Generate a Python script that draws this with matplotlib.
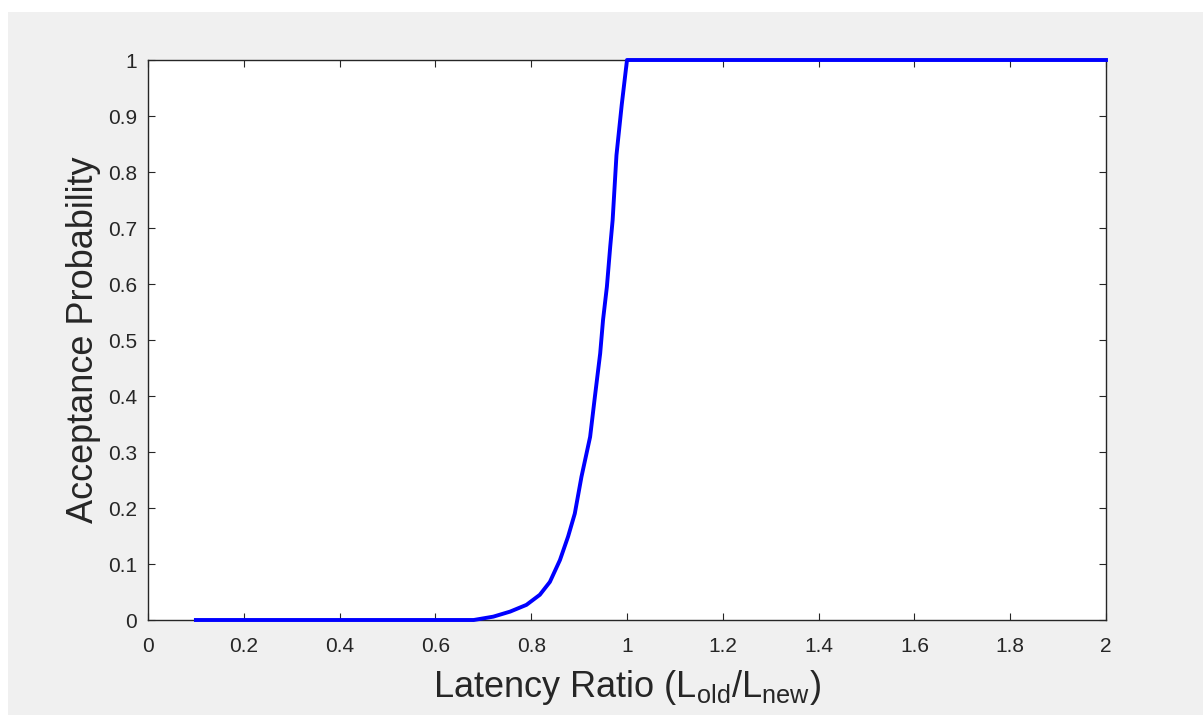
import matplotlib
matplotlib.use("agg")
import matplotlib.pyplot as plt
from matplotlib.patches import Rectangle

# values
ratio = [0.1, 0.2, 0.3, 0.4, 0.5, 0.6, 0.68, 0.721, 0.756, 0.79, 0.818, 0.839,
         0.86, 0.877, 0.891, 0.905, 0.923, 0.933, 0.944, 0.95, 0.958, 0.965,
         0.97, 0.978, 0.989, 1.0, 1.5, 2.0]
prob = [0, 0, 0, 0, 0, 0, 0, 0.006, 0.015, 0.027, 0.045, 0.068,
        0.107, 0.149, 0.19, 0.256, 0.327, 0.399, 0.476, 0.536, 0.595, 0.667,
        0.714, 0.83, 0.92, 1.0, 1.0, 1.0]

x_ticks = [0, 0.2, 0.4, 0.6, 0.8, 1, 1.2, 1.4, 1.6, 1.8, 2]
x_labels = ['0', '0.2', '0.4', '0.6', '0.8', '1', '1.2', '1.4', '1.6', '1.8', '2']
y_ticks = [0, 0.1, 0.2, 0.3, 0.4, 0.5, 0.6, 0.7, 0.8, 0.9, 1]
y_labels = ['0', '0.1', '0.2', '0.3', '0.4', '0.5', '0.6', '0.7', '0.8', '0.9', '1']

plt.rcParams['font.family'] = ['Liberation Sans', 'DejaVu Sans']
ink = '#262626'

fig = plt.figure(figsize=(12.03, 7.15), dpi=100, facecolor='white')
# grey figure panel, offset like the screenshot
fig.patches.append(Rectangle((8 / 1203, 0), 1, 1 - 12 / 715, transform=fig.transFigure,
                             facecolor='#f0f0f0', edgecolor='none', zorder=-10))

ax = fig.add_axes([148 / 1203, 95 / 715, 958 / 1203, 560 / 715])
ax.set_facecolor('white')
ax.plot(ratio, prob, color='#0000ff', linewidth=2.8, clip_on=False, zorder=5)

ax.set_xlim(0, 2)
ax.set_ylim(0, 1)
ax.set_xticks(x_ticks)
ax.set_xticklabels(x_labels)
ax.set_yticks(y_ticks)
ax.set_yticklabels(y_labels)
ax.tick_params(direction='in', length=5, width=0.8, colors=ink, labelsize=15,
               top=True, right=True)
ax.tick_params(axis='x', pad=12)
ax.tick_params(axis='y', pad=8)
for s in ax.spines.values():
    s.set_color(ink)
    s.set_linewidth(1.0)

ax.set_xlabel(r'Latency Ratio (L$_{\mathregular{old}}$/L$_{\mathregular{new}}$)',
              fontsize=26, color=ink, labelpad=9)
ax.set_ylabel('Acceptance Probability', fontsize=26, color=ink, labelpad=5)

plt.savefig('out.png', dpi=100)
